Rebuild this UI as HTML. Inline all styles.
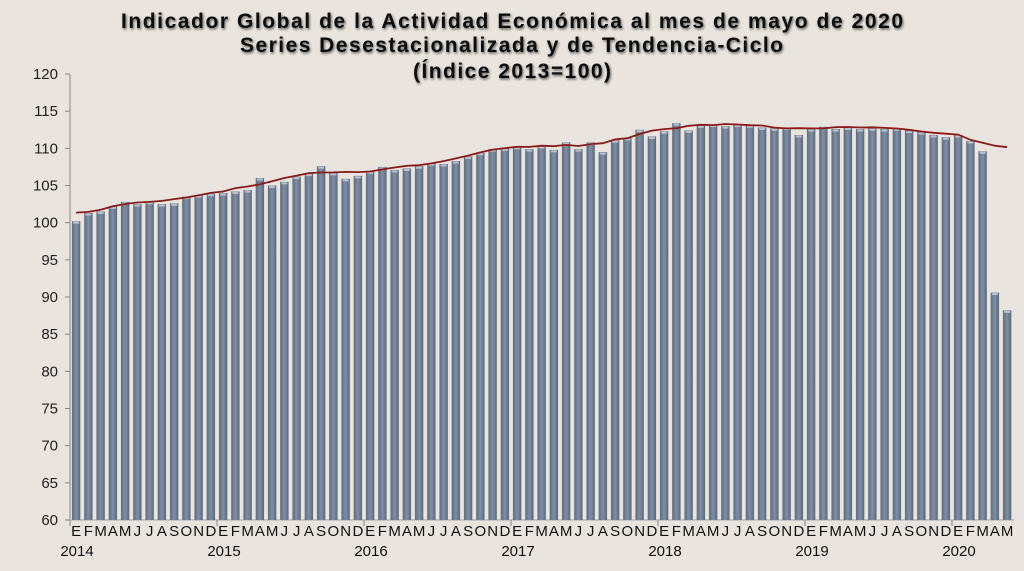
<!DOCTYPE html>
<html><head><meta charset="utf-8"><style>
html,body{margin:0;padding:0;background:#e9e4dd;}
svg{display:block;font-family:"Liberation Sans",Arial,sans-serif;}
</style></head><body>
<svg id="c" width="1024" height="571" viewBox="0 0 1024 571" xmlns="http://www.w3.org/2000/svg">
<rect width="1024" height="571" fill="#e9e4dd"/>
<defs><filter id="sh" x="-5%" y="-20%" width="110%" height="150%"><feGaussianBlur in="SourceAlpha" stdDeviation="1.2"/><feOffset dx="1" dy="1.5"/><feComponentTransfer><feFuncA type="linear" slope="0.6"/></feComponentTransfer><feMerge><feMergeNode/><feMergeNode in="SourceGraphic"/></feMerge></filter>
<linearGradient id="bg" x1="0" x2="1"><stop offset="0" stop-color="#5d6c80"/><stop offset="0.5" stop-color="#8090a4"/><stop offset="1" stop-color="#5a687c"/></linearGradient></defs>
<g filter="url(#sh)" font-weight="bold" font-size="21" fill="#111">
<text x="121" y="28" textLength="782" lengthAdjust="spacing">Indicador Global de la Actividad Económica al mes de mayo de 2020</text>
<text x="240" y="52" textLength="543" lengthAdjust="spacing">Series Desestacionalizada y de Tendencia-Ciclo</text>
<text x="413" y="78" textLength="198" lengthAdjust="spacing">(Índice 2013=100)</text>
</g>
<g id="g"></g>
</svg>
<script>
var v=[100.2,101.3,101.5,102.2,102.8,102.5,102.8,102.5,102.6,103.5,103.7,103.9,
104.0,104.2,104.4,106.0,105.0,105.5,106.2,106.6,107.6,106.7,105.9,106.3,
106.9,107.5,107.1,107.3,107.6,108.0,107.9,108.3,108.9,109.4,109.9,110.0,
110.2,109.9,110.3,109.8,110.8,109.9,110.8,109.5,111.1,111.4,112.5,111.6,
112.3,113.4,112.4,113.1,113.2,113.0,113.2,113.1,112.8,112.7,112.8,111.8,
112.6,112.9,112.6,112.8,112.6,112.7,112.6,112.7,112.4,112.2,111.8,111.5,
111.8,111.0,109.6,90.6,88.2];
function Y(x){return 520-(x-60)*7.433;}
var X0=70,W=12.25,s='';
s+='<line x1="70" y1="74" x2="70" y2="520" stroke="#888" stroke-width="1"/>';
s+='<line x1="70" y1="520" x2="1014" y2="520" stroke="#bbb" stroke-width="1.5"/>';
for(var t=60;t<=120;t+=5){var y=Y(t);s+='<line x1="65" y1="'+y+'" x2="70" y2="'+y+'" stroke="#888"/>';
s+='<text x="58" y="'+(y+5)+'" font-size="15" text-anchor="end" fill="#222">'+t+'</text>';}
for(var i=0;i<v.length;i++){var cx=X0+W*(i+0.5),y=Y(v[i]);
s+='<rect x="'+(cx-4.2)+'" y="'+y+'" width="8.4" height="'+(520-y)+'" fill="url(#bg)"/>';
s+='<rect x="'+(cx-3)+'" y="'+(y+0.5)+'" width="6" height="2" fill="#c8d0dc" opacity="0.8"/>';}
var tr=[];for(var i=0;i<v.length;i++){var a=0,n=0;for(var k=-2;k<=2;k++){var j=i+k;if(j>=0&&j<73){a+=v[j];n++;}}tr.push(a/n);}
tr[0]=101.2;tr[73]=111.0;tr[74]=110.6;tr[75]=110.2;tr[76]=110.0;
var p='';for(var i=0;i<v.length;i++){p+=(i?'L':'M')+(X0+W*(i+0.5)).toFixed(1)+' '+Y(tr[i]+0.15).toFixed(1);}
s+='<path d="'+p+'" fill="none" stroke="#8b1a1a" stroke-width="1.8"/>';
var m=['E','F','M','A','M','J','J','A','S','O','N','D'];
for(var i=0;i<v.length;i++){var cx=X0+W*(i+0.5);s+='<text x="'+cx+'" y="536" font-size="15" text-anchor="middle" fill="#111">'+m[i%12]+'</text>';}
for(var k=0;k<7;k++){var x=X0+147*k;s+='<line x1="'+x+'" y1="520" x2="'+x+'" y2="526" stroke="#888"/>';
s+='<text x="'+(x+7)+'" y="556" font-size="15" text-anchor="middle" fill="#111">'+(2014+k)+'</text>';}
document.getElementById('g').innerHTML=s;
</script>
</body></html>
